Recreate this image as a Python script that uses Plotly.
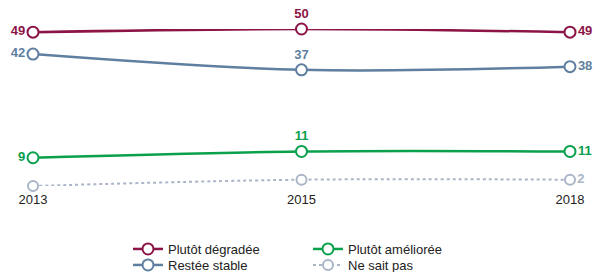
import plotly.graph_objects as go

years = ["2013", "2015", "2018"]
degradee = [49, 50, 49]
stable = [42, 37, 38]
amelioree = [9, 11, 11]
ne_sait_pas = [0, 2, 2]
nsp_labels = ["", "", "2"]

C_DEG = "#8c1447"
C_STA = "#5f7fa0"
C_AME = "#0aa04c"
C_NSP = "#aab5c8"

xs = [0, 1, 2]
pos = ["middle left", "top center", "middle right"]

fig = go.Figure()

def add(name, vals, color, dash, legend, labels=None, lw=2.5, msize=11):
    fig.add_trace(go.Scatter(
        x=xs, y=vals, name=name, mode="lines+markers+text",
        text=labels if labels is not None else [str(v) for v in vals],
        textposition=pos,
        textfont=dict(family="Liberation Sans, Arial, sans-serif", size=13, color=color, weight="bold"),
        line=dict(color=color, width=lw, dash=dash, shape="spline"),
        marker=dict(symbol="circle", size=msize, color="white", line=dict(color=color, width=2)),
        cliponaxis=False, legend=legend, hoverinfo="skip",
    ))

add("Plutôt dégradée", degradee, C_DEG, "solid", "legend")
add("Restée stable", stable, C_STA, "solid", "legend3")
add("Plutôt améliorée", amelioree, C_AME, "solid", "legend2")
add("Ne sait pas", ne_sait_pas, C_NSP, "dot", "legend4", nsp_labels, lw=2, msize=10)

legfont = dict(family="Liberation Sans, Arial, sans-serif", size=13, color="#222")

def leg(x, y):
    return dict(x=x, y=y, xref="container", yref="container", xanchor="left", yanchor="top",
                orientation="v", font=legfont, tracegroupgap=0, itemwidth=30,
                bgcolor="rgba(0,0,0,0)")

x1, x2 = 128 / 597, 308 / 597
y1, y2 = (272 - 234) / 272, (272 - 250) / 272

fig.update_layout(
    width=597, height=272,
    margin=dict(l=33, r=27, t=29, b=86, autoexpand=False),
    paper_bgcolor="white", plot_bgcolor="white",
    xaxis=dict(range=[0, 2], tickvals=xs, ticktext=years, showgrid=False, zeroline=False,
               showline=False, ticks="", ticklabelstandoff=4,
               tickfont=dict(family="Liberation Sans, Arial, sans-serif", size=13, color="#222")),
    yaxis=dict(range=[0, 50], visible=False),
    showlegend=True,
    legend=leg(x1, y1),
    legend2=leg(x2, y1),
    legend3=leg(x1, y2),
    legend4=leg(x2, y2),
)

fig.write_html("out.html", config={"displayModeBar": False},
               post_script="document.body.style.margin='0px';")
